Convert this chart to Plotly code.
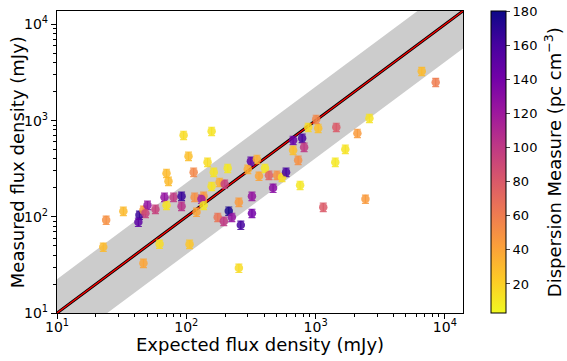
import plotly.graph_objects as go
from plotly.colors import get_colorscale, sample_colorscale

# Expected flux density (mJy)
expected = [22.8, 24.0, 32.6, 43.4, 42.6, 46.6, 48.3, 50.1, 57.7, 67.8,
            79.7, 91.9, 91.9, 70.3, 62.1, 46.6, 106, 95.3, 157, 104,
            70.3, 72.8, 114, 146, 163, 209, 116, 136, 131, 157,
            181, 198, 136, 120, 255, 322, 316, 352, 299, 365,
            406, 436, 503, 550, 591, 469, 759, 670, 787, 815,
            670, 733, 877, 1047, 1011, 1446, 2105, 2608, 1698, 1420,
            6620, 8490, 1146, 2429, 175, 195, 213, 225, 264, 322, 255]
# Measured flux density (mJy)
measured = [48.5, 92.4, 114.6, 104.2, 88.1, 117.4, 109.2, 132.3, 120.2, 160,
            160, 164, 129, 132, 52.1, 33.0, 52, 705, 776, 427,
            284, 235, 291, 370, 291, 320, 160, 164, 153, 208,
            229, 219, 132, 112, 142, 164, 379, 397, 313, 265,
            320, 271, 271, 258, 291, 199, 213, 626, 657, 530,
            493, 388, 854, 834, 1035, 854, 740, 1059, 505, 370,
            3260, 2506, 126, 153, 99, 90.2, 115, 99, 82, 109, 29.3]
# Dispersion measure (pc cm^-3)
dm = [30, 50, 30, 165, 150, 45, 95, 125, 95, 125,
      100, 165, 105, 12, 15, 40, 25, 15, 12, 28,
      30, 30, 55, 15, 12, 10, 50, 45, 120, 12,
      35, 95, 10, 40, 45, 125, 150, 35, 35, 40,
      10, 75, 50, 15, 160, 130, 10, 145, 160, 100,
      28, 50, 15, 28, 55, 80, 45, 12, 12, 10,
      30, 60, 80, 45, 65, 100, 175, 125, 160, 140, 15]

err_frac = 0.10
dm_min, dm_max = 3, 180
band_up, band_low = 2.25, 2.45
line_x = [10, 14000]
line_y = [10, 14000]

cs = get_colorscale("Plasma_r")
norm = [(d - dm_min) / (dm_max - dm_min) for d in dm]
cols = sample_colorscale(cs, norm)

fig = go.Figure()
# grey band
fig.add_trace(go.Scatter(x=line_x, y=[v * band_up for v in line_y], mode="lines",
                         line=dict(width=0), showlegend=False, hoverinfo="skip"))
fig.add_trace(go.Scatter(x=line_x, y=[v / band_low for v in line_y], mode="lines",
                         line=dict(width=0), fill="tonexty", fillcolor="rgb(204,204,204)",
                         showlegend=False, hoverinfo="skip"))
fig.add_trace(go.Scatter(x=line_x, y=line_y, mode="lines", line=dict(color="black", width=3),
                         showlegend=False))
fig.add_trace(go.Scatter(x=line_x, y=line_y, mode="lines", line=dict(color="red", width=1.3),
                         showlegend=False))

for xi, yi, c in zip(expected, measured, cols):
    fig.add_trace(go.Scatter(
        x=[xi], y=[yi], mode="markers", marker=dict(size=1, opacity=0),
        error_y=dict(type="data", array=[yi * err_frac], arrayminus=[yi * err_frac],
                     color=c, thickness=1.2, width=3.5),
        showlegend=False, hoverinfo="skip", opacity=0.85))

fig.add_trace(go.Scatter(
    x=expected, y=measured, mode="markers",
    marker=dict(size=8.5, color=dm, colorscale="Plasma_r", cmin=dm_min, cmax=dm_max,
                opacity=0.85, line=dict(width=0),
                colorbar=dict(
                    tickvals=[20, 40, 60, 80, 100, 120, 140, 160, 180],
                    ticks="outside", ticklen=4, tickfont=dict(size=13, color="black"),
                    thickness=15, len=1, lenmode="fraction", y=0.5, yanchor="middle",
                    x=1.07, xanchor="left", xpad=0, ypad=0,
                    outlinewidth=1, outlinecolor="black")),
    showlegend=False))

major = [10, 100, 1000, 10000]
major_txt = ["10<sup>1</sup>", "10<sup>2</sup>", "10<sup>3</sup>", "10<sup>4</sup>"]
minor = [m * 10 ** k for k in range(1, 5) for m in range(2, 10) if m * 10 ** k < 14000]

axis_common = dict(type="log", range=[1, 4.14], showgrid=False, zeroline=False,
                   showline=True, linecolor="black", linewidth=1.3, mirror=True,
                   ticks="outside", ticklen=5, tickcolor="black", tickwidth=1.2,
                   tickvals=major, ticktext=major_txt, automargin=False,
                   tickfont=dict(size=14, color="black"),
                   minor=dict(tickvals=minor, ticks="outside", ticklen=3,
                              tickcolor="black", tickwidth=0.8, showgrid=False))

fig.update_layout(
    width=567, height=361,
    margin=dict(l=57, r=104, t=11, b=48),
    plot_bgcolor="white", paper_bgcolor="white",
    font=dict(family="DejaVu Sans", color="black"),
    xaxis=dict(axis_common, ticklabelstandoff=-4),
    yaxis=dict(axis_common),
    annotations=[
        dict(text="Expected flux density (mJy)", xref="paper", yref="paper",
             x=0.5, y=-0.103, xanchor="center", yanchor="middle", showarrow=False,
             font=dict(size=18, color="black")),
        dict(text="Measured flux density (mJy)", xref="paper", yref="paper",
             x=-0.098, y=0.5, xanchor="center", yanchor="middle", showarrow=False,
             textangle=-90, font=dict(size=18, color="black")),
        dict(text="Dispersion Measure (pc cm<sup>−3</sup>)", xref="paper", yref="paper",
             x=1.222, y=0.5, xanchor="center", yanchor="middle", showarrow=False,
             textangle=-90, font=dict(size=18, color="black")),
    ],
)

fig.write_html("out.html", config={"displayModeBar": False},
               post_script="document.body.style.margin='0';")
